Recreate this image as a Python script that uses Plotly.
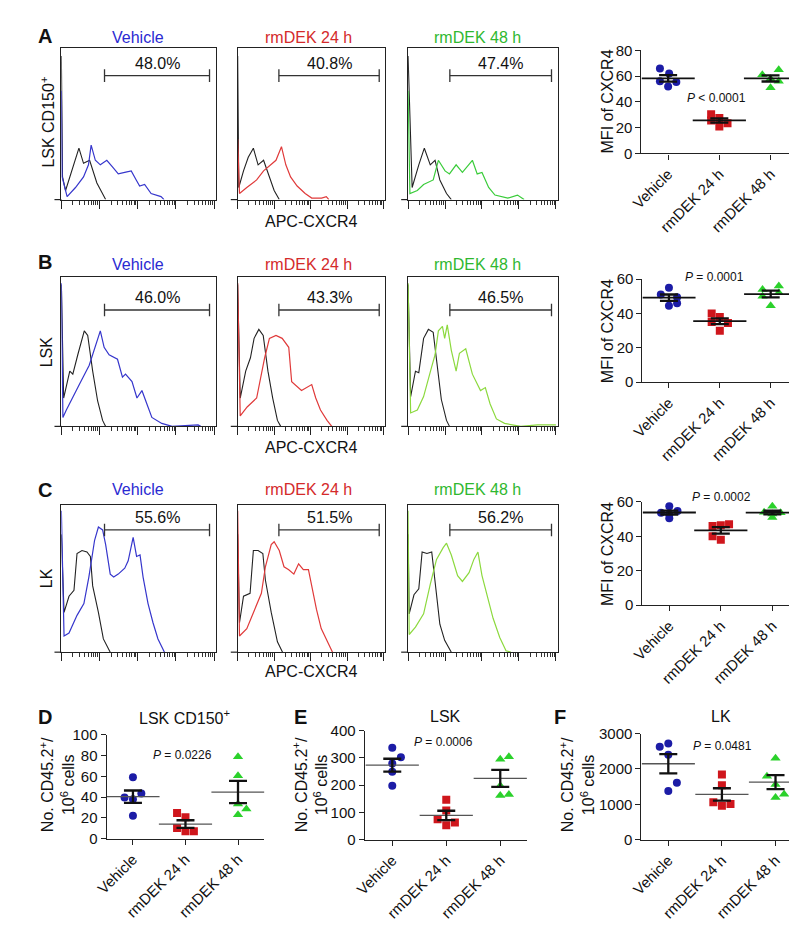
import numpy as np
import plotly.graph_objects as go

W, H = 797, 930
FONT = "Liberation Sans, Arial, Helvetica, sans-serif"

CATEGORIES = ["Vehicle", "rmDEK 24 h", "rmDEK 48 h"]
HIST_TITLES = ["Vehicle", "rmDEK 24 h", "rmDEK 48 h"]
ROW_LABELS = ["LSK CD150<sup>+</sup>", "LSK", "LK"]
GATE_PCT = [["48.0%", "40.8%", "47.4%"],
            ["46.0%", "43.3%", "46.5%"],
            ["55.6%", "51.5%", "56.2%"]]
GATE_LO, GATE_HI = 1.13, 3.88   # gate bounds, log10 units

# ---------------- histogram data: x = log10(APC-CXCR4), y = % of max ----------------
# Panel A (LSK CD150+)
HA1_CTRL_X = [0, 0.03, 0.11, 0.28, 0.46, 0.58, 0.74, 0.93, 1.16]
HA1_CTRL_Y = [95, 15, 6, 19, 34, 24, 26, 11, 0]
HA1_X = [0, 0.02, 0.15, 0.37, 0.58, 0.71, 0.78, 0.89, 1.02, 1.19, 1.36, 1.49, 1.66, 1.83, 1.96, 2.05, 2.18, 2.35, 2.61, 2.69]
HA1_Y = [72, 15, 2, 8, 15, 23, 36, 26, 23, 26, 21, 17, 18, 19, 13, 9, 10, 4, 2, 0]
HA2_CTRL_X = [0, 0.03, 0.16, 0.29, 0.43, 0.56, 0.71, 0.87, 1.0, 1.14]
HA2_CTRL_Y = [95, 8, 19, 28, 34, 23, 26, 15, 6, 0]
HA2_X = [0, 0.05, 0.25, 0.52, 0.71, 0.92, 1.05, 1.2, 1.32, 1.45, 1.63, 1.85, 2.03, 2.3, 2.43, 2.5]
HA2_Y = [40, 4, 8, 13, 19, 23, 26, 35, 23, 15, 9, 4, 1, 1, 2, 0]
HA3_CTRL_X = [0, 0.11, 0.29, 0.44, 0.6, 0.73, 0.86, 1.04, 1.17]
HA3_CTRL_Y = [95, 8, 23, 34, 23, 26, 13, 4, 0]
HA3_X = [0, 0.05, 0.25, 0.42, 0.68, 0.82, 1.0, 1.12, 1.3, 1.47, 1.74, 1.87, 2.0, 2.18, 2.35, 2.52, 2.7, 2.96, 3.14]
HA3_Y = [72, 4, 6, 10, 13, 26, 19, 17, 23, 18, 26, 17, 18, 8, 3, 2, 1, 3, 0]
# Panel B (LSK)
HB1_CTRL_X = [0, 0.06, 0.22, 0.3, 0.43, 0.6, 0.69, 0.82, 0.95, 1.08, 1.16]
HB1_CTRL_Y = [95, 19, 37, 35, 48, 64, 61, 37, 17, 4, 0]
HB1_X = [0, 0.04, 0.13, 0.3, 0.47, 0.73, 0.89, 1.02, 1.12, 1.25, 1.47, 1.6, 1.68, 1.85, 1.98, 2.11, 2.24, 2.37, 2.63, 2.9, 3.58, 3.65]
HB1_Y = [96, 6, 11, 19, 28, 41, 53, 64, 53, 48, 45, 33, 35, 30, 19, 24, 15, 6, 2, 0, 1, 0]
HB2_CTRL_X = [0, 0.07, 0.22, 0.35, 0.45, 0.58, 0.7, 0.83, 0.96, 1.09, 1.18]
HB2_CTRL_Y = [95, 19, 37, 46, 59, 65, 61, 37, 19, 4, 0]
HB2_X = [0, 0.07, 0.26, 0.52, 0.74, 0.87, 1.05, 1.22, 1.4, 1.48, 1.75, 1.88, 2.03, 2.14, 2.27, 2.45, 2.58]
HB2_Y = [96, 7, 13, 19, 46, 59, 61, 59, 53, 30, 24, 26, 28, 19, 11, 4, 0]
HB3_CTRL_X = [0, 0.07, 0.2, 0.29, 0.42, 0.55, 0.68, 0.77, 0.9, 1.04, 1.12]
HB3_CTRL_Y = [95, 20, 37, 36, 59, 65, 63, 46, 18, 4, 0]
HB3_X = [0, 0.07, 0.25, 0.42, 0.64, 0.73, 0.82, 0.93, 0.99, 1.06, 1.17, 1.3, 1.39, 1.56, 1.74, 1.96, 2.09, 2.22, 2.39, 2.61, 3.05, 3.5, 4.0]
HB3_Y = [96, 9, 11, 20, 40, 48, 64, 67, 59, 68, 51, 37, 49, 52, 35, 24, 26, 15, 5, 2, 0, 1, 1]
# Panel C (LK)
HC1_CTRL_X = [0, 0.07, 0.2, 0.33, 0.41, 0.54, 0.67, 0.76, 0.82, 0.97, 1.1, 1.28]
HC1_CTRL_Y = [80, 27, 38, 42, 67, 69, 68, 65, 45, 27, 9, 0]
HC1_X = [0, 0.07, 0.2, 0.41, 0.59, 0.72, 0.87, 0.97, 1.08, 1.16, 1.28, 1.37, 1.49, 1.66, 1.75, 1.88, 1.97, 2.06, 2.14, 2.27, 2.4, 2.53, 2.7]
HC1_Y = [96, 11, 13, 25, 33, 51, 76, 85, 83, 73, 53, 51, 53, 57, 62, 78, 65, 66, 51, 33, 20, 9, 0]
HC2_CTRL_X = [0, 0.05, 0.16, 0.34, 0.43, 0.56, 0.69, 0.76, 0.92, 1.09, 1.23]
HC2_CTRL_Y = [80, 20, 38, 40, 69, 69, 67, 49, 27, 7, 0]
HC2_X = [0, 0.05, 0.25, 0.43, 0.65, 0.76, 0.92, 1.0, 1.14, 1.27, 1.4, 1.54, 1.67, 1.8, 1.94, 2.03, 2.16, 2.29, 2.43, 2.6]
HC2_Y = [96, 11, 16, 27, 40, 58, 73, 75, 69, 58, 56, 53, 60, 56, 56, 45, 29, 16, 9, 0]
HC3_CTRL_X = [0, 0.03, 0.16, 0.29, 0.38, 0.51, 0.64, 0.73, 0.86, 0.99, 1.17]
HC3_CTRL_Y = [80, 26, 39, 43, 68, 67, 68, 46, 19, 8, 0]
HC3_X = [0, 0.03, 0.2, 0.42, 0.6, 0.77, 0.95, 1.04, 1.17, 1.34, 1.47, 1.65, 1.78, 1.89, 2.0, 2.13, 2.3, 2.48, 2.65, 2.78]
HC3_Y = [96, 12, 17, 26, 46, 63, 71, 74, 66, 52, 48, 54, 63, 68, 52, 39, 23, 10, 1, 0]

# ---------------- dot plot data (5 mice per group) ----------------
A_VEH = [66, 62, 56, 55.5, 52]
A_24H = [30.5, 27.5, 25.5, 23.5, 21]
A_48H = [65, 61, 58, 56, 51]
B_VEH = [55, 51, 49.5, 46, 44.5]
B_24H = [40, 38, 35, 34.5, 30]
B_48H = [56, 54, 52, 50, 44.5]
C_VEH = [57.5, 54.7, 53.7, 52.9, 50.5]
C_24H = [47, 46.5, 46, 40, 38]
C_48H = [57.5, 54, 53.7, 53, 51]
D_VEH = [59, 43.5, 39.5, 38, 22]
D_24H = [24.8, 20.7, 10.4, 7.2, 7.2]
D_48H = [78.8, 60.6, 33.3, 28.6, 22.9]
E_VEH = [337, 303, 280, 249, 198]
E_24H = [147, 107, 75, 63, 53]
E_48H = [304, 295, 198, 166, 162]
F_VEH = [2720, 2630, 2400, 1610, 1380]
F_24H = [1843, 1537, 1056, 1010, 963]
F_48H = [2305, 1796, 1565, 1287, 1194]
P_TEXT = ["<i>P</i> &lt; 0.0001", "<i>P</i> = 0.0001", "<i>P</i> = 0.0002",
          "<i>P</i> = 0.0226", "<i>P</i> = 0.0006", "<i>P</i> = 0.0481"]

# ---------------- styling / layout constants ----------------
BLUE_T, RED_T, GREEN_T = "#2a2ad2", "#d42a2a", "#2fb82f"
HIST_COLORS = [["#3636cc", "#e03a3a", "#3acc3a"],
               ["#3636cc", "#e03a3a", "#8cd93e"],
               ["#3636cc", "#e03a3a", "#8cd93e"]]
DOT_COLORS = ["#1c1ca6", "#cf161c", "#2bd12b"]
DOT_SYMBOLS = ["circle", "square", "triangle-up"]
DOT_SIZES = [8, 8, 9]
JITTER = {
    "A": [[-0.16, 0.02, -0.16, 0.16, 0], [-0.16, 0, -0.16, 0.16, 0], [0.16, -0.16, 0, 0.16, 0]],
    "B": [[0, -0.16, 0.16, 0.16, 0], [-0.16, 0, -0.16, 0.16, 0], [0.16, -0.16, 0.16, -0.16, 0]],
    "C": [[0, 0.16, -0.16, 0, 0], [0.16, 0, -0.16, -0.16, 0], [0, -0.16, 0.16, 0, 0]],
    "D": [[0, 0.16, -0.16, 0, 0], [-0.16, 0, -0.16, 0, 0.16], [0, 0, 0, 0.16, 0]],
    "E": [[0, 0.16, 0, 0, 0], [0, 0, -0.16, 0.16, 0], [0.16, 0, 0, 0.16, 0]],
    "F": [[0, -0.16, 0, 0.16, 0], [0, 0, -0.16, 0.16, 0], [0, -0.16, 0, 0.16, 0]],
}

HIST_COLS = [(42, 199), (221, 371), (394, 546)]
HIST_ROWS = [(32, 186), (265, 417), (497, 647)]
GATE_Y = [82, 78, 83]

def px(x):
    return x / W

def py(y):
    return 1 - y / H

fig = go.Figure()
layout = dict(width=W, height=H, margin=dict(l=0, r=0, t=0, b=0),
              paper_bgcolor="white", plot_bgcolor="white", showlegend=False,
              font=dict(family=FONT, color="#111"))
annotations = []
shapes = []

def ann(text, x, y, size=16, color="#111", angle=0, bold=False, xanchor="center"):
    annotations.append(dict(text=("<b>%s</b>" % text) if bold else text, x=px(x), y=py(y),
                            xref="paper", yref="paper", showarrow=False, textangle=angle,
                            xanchor=xanchor, yanchor="middle",
                            font=dict(family=FONT, size=size, color=color)))

HIST = [
    [(HA1_CTRL_X, HA1_CTRL_Y, HA1_X, HA1_Y), (HA2_CTRL_X, HA2_CTRL_Y, HA2_X, HA2_Y), (HA3_CTRL_X, HA3_CTRL_Y, HA3_X, HA3_Y)],
    [(HB1_CTRL_X, HB1_CTRL_Y, HB1_X, HB1_Y), (HB2_CTRL_X, HB2_CTRL_Y, HB2_X, HB2_Y), (HB3_CTRL_X, HB3_CTRL_Y, HB3_X, HB3_Y)],
    [(HC1_CTRL_X, HC1_CTRL_Y, HC1_X, HC1_Y), (HC2_CTRL_X, HC2_CTRL_Y, HC2_X, HC2_Y), (HC3_CTRL_X, HC3_CTRL_Y, HC3_X, HC3_Y)],
]

major = [1, 10, 100, 1000, 10000]
minor_vals = [k * 10 ** d for d in range(4) for k in range(2, 10)]

ax = 0
for r in range(3):
    for c in range(3):
        ax += 1
        xn, yn = "xaxis%d" % ax, "yaxis%d" % ax
        xr, yr = "x%d" % ax, "y%d" % ax
        x0, x1 = HIST_COLS[c]
        y0, y1 = HIST_ROWS[r]
        layout[xn] = dict(domain=[px(x0), px(x1)], anchor=yr, type="log", range=[0, 4.05],
                          showline=True, linecolor="#222", linewidth=1.2, mirror=True,
                          ticks="outside", tickvals=major, ticklen=8, tickwidth=1.2, tickcolor="#222",
                          showticklabels=False, showgrid=False, zeroline=False,
                          minor=dict(tickvals=minor_vals, ticks="outside", ticklen=4,
                                     tickwidth=1, tickcolor="#333", showgrid=False))
        layout[yn] = dict(domain=[py(y1), py(y0)], anchor=xr, range=[0, 100],
                          showline=True, linecolor="#222", linewidth=1.2, mirror=True,
                          ticks="", showticklabels=False, showgrid=False, zeroline=False)
        cx, cy, hx, hy = HIST[r][c]
        fig.add_trace(go.Scatter(x=[10 ** v for v in cx], y=cy, mode="lines",
                                 line=dict(color="#222", width=1.1), xaxis=xr, yaxis=yr))
        fig.add_trace(go.Scatter(x=[10 ** v for v in hx], y=hy, mode="lines",
                                 line=dict(color=HIST_COLORS[r][c], width=1.2), xaxis=xr, yaxis=yr))
        # gate
        fig.add_trace(go.Scatter(x=[10 ** GATE_LO, 10 ** GATE_HI], y=[GATE_Y[r]] * 2,
                                 mode="lines+markers", line=dict(color="#333", width=1.3),
                                 marker=dict(symbol="line-ns-open", size=9, color="#333",
                                             line=dict(color="#333", width=1.3)),
                                 xaxis=xr, yaxis=yr))
        annotations.append(dict(text=GATE_PCT[r][c], x=(GATE_LO + GATE_HI) / 2, y=GATE_Y[r],
                                xref=xr, yref=yr, showarrow=False, yanchor="middle", yshift=12,
                                font=dict(family=FONT, size=16, color="#111")))
        # axis line extension to the left of the box
        shapes.append(dict(type="line", xref="paper", yref="paper", x0=px(x0 - 7), x1=px(x0),
                           y0=py(y1), y1=py(y1), line=dict(color="#222", width=1.2)))

# hist titles / labels
TITLE_Y = [21, 252, 481]
TITLE_X = [120, 293, 464]
TCOL = [BLUE_T, RED_T, GREEN_T]
for r in range(3):
    for c in range(3):
        ann(HIST_TITLES[c], TITLE_X[c], TITLE_Y[r], size=16, color=TCOL[c])
ann(ROW_LABELS[0], 28, 107, size=16, angle=-90)
ann(ROW_LABELS[1], 27, 341, size=16, angle=-90)
ann(ROW_LABELS[2], 27, 572, size=16, angle=-90)
for yy in [208, 439, 667]:
    ann("APC-CXCR4", 296, yy, size=16)

# panel letters
for t, x, y in [("A", 25, 19), ("B", 25, 250), ("C", 25, 482), ("D", 25, 713), ("E", 285, 713), ("F", 548, 713)]:
    ann(t, x, y, size=20, bold=True)

# ---------------- dot plots ----------------
SC = [
    ("A", [A_VEH, A_24H, A_48H], (631, 788), (34, 139), [0, 80], 20, [-0.52, 2.5], (707, 82)),
    ("B", [B_VEH, B_24H, B_48H], (632, 788), (267, 372), [0, 60], 20, [-0.52, 2.5], (705, 265)),
    ("C", [C_VEH, C_24H, C_48H], (632, 790), (494, 599), [0, 60], 20, [-0.52, 2.5], (712, 489)),
    ("D", [D_VEH, D_24H, D_48H], (88, 248), (731, 837), [0, 100], 20, [-0.5, 2.5], (165, 752)),
    ("E", [E_VEH, E_24H, E_48H], (350, 515), (727, 838), [0, 400], 100, [-0.51, 2.5], (430, 738)),
    ("F", [F_VEH, F_24H, F_48H], (631, 797), (730, 838), [0, 3000], 1000, [-0.5, 2.55], (713, 743)),
]
for k, (name, groups, (x0, x1), (y0, y1), yrng, dt, xrng, ppos) in enumerate(SC):
    ax += 1
    xn, yn = "xaxis%d" % ax, "yaxis%d" % ax
    xr, yr = "x%d" % ax, "y%d" % ax
    layout[xn] = dict(domain=[px(x0), px(x1)], anchor=yr, range=xrng,
                      showline=True, linecolor="#222", linewidth=1.3,
                      ticks="outside", ticklen=5, tickwidth=1.2, tickcolor="#222",
                      tickvals=[0, 1, 2], ticktext=CATEGORIES, tickangle=-45,
                      tickfont=dict(family=FONT, size=15, color="#111"),
                      showgrid=False, zeroline=False)
    layout[yn] = dict(domain=[py(y1), py(y0)], anchor=xr, range=yrng,
                      showline=True, linecolor="#222", linewidth=1.3,
                      ticks="outside", ticklen=5, tickwidth=1.2, tickcolor="#222",
                      tickmode="linear", tick0=0, dtick=dt,
                      tickfont=dict(family=FONT, size=15, color="#111"),
                      showgrid=False, zeroline=False)
    big = k < 3
    for g, vals in enumerate(groups):
        jit = JITTER[name][g]
        fig.add_trace(go.Scatter(x=[g + j for j in jit], y=vals, mode="markers",
                                 marker=dict(symbol=DOT_SYMBOLS[g], size=DOT_SIZES[g],
                                             color=DOT_COLORS[g], line=dict(width=0)),
                                 xaxis=xr, yaxis=yr))
    mcol = "#111" if big else "#555"
    for g, vals in enumerate(groups):
        arr = np.array(vals, dtype=float)
        m = arr.mean()
        sem = arr.std(ddof=1) / np.sqrt(len(arr))
        fig.add_trace(go.Scatter(x=[g], y=[m], mode="markers",
                                 marker=dict(symbol="line-ew-open", size=38, color=mcol,
                                             line=dict(color=mcol, width=1.8 if big else 1.3)),
                                 xaxis=xr, yaxis=yr))
        fig.add_trace(go.Scatter(x=[g], y=[m], mode="markers",
                                 marker=dict(size=1, color="rgba(0,0,0,0)"),
                                 error_y=dict(type="data", array=[sem], visible=True,
                                              width=9, thickness=2.3, color="#111"),
                                 xaxis=xr, yaxis=yr))
    ann(P_TEXT[k], ppos[0], ppos[1], size=12)

# dot plot y titles and panel titles
ann("MFI of CXCR4", 596, 86, size=16, angle=-90)
ann("MFI of CXCR4", 596, 320, size=16, angle=-90)
ann("MFI of CXCR4", 596, 547, size=16, angle=-90)
for xx in [38, 295, 566]:
    ann("No. CD45.2<sup>+</sup>/<br>10<sup>6</sup> cells", xx, 782, size=16, angle=-90)
ann("LSK CD150<sup>+</sup>", 167, 713, size=16)
ann("LSK", 432, 713, size=16)
ann("LK", 712, 713, size=16)

layout["annotations"] = annotations
layout["shapes"] = shapes
fig.update_layout(**layout)
fig.write_html("out.html")
